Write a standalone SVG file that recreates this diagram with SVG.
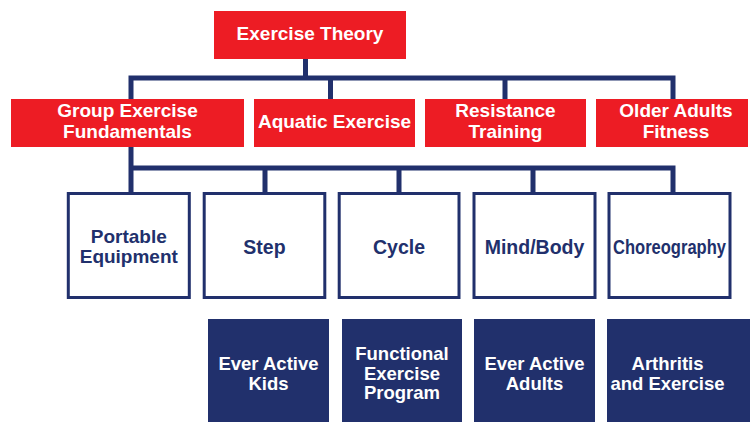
<svg xmlns="http://www.w3.org/2000/svg" width="750" height="422" viewBox="0 0 750 422">
<style>
.red{fill:#ed1c24}
.navy{fill:#21306c}
.wbox{fill:#ffffff;stroke:#21306c;stroke-width:3}
.wt{font-family:"Liberation Sans",Arial,sans-serif;font-weight:bold;font-size:19px;fill:#ffffff;text-anchor:middle}
.nt{font-family:"Liberation Sans",Arial,sans-serif;font-weight:bold;font-size:19.5px;fill:#21306c;text-anchor:middle}
.dt{font-family:"Liberation Sans",Arial,sans-serif;font-weight:bold;font-size:18.5px;fill:#ffffff;text-anchor:middle}
.ln{fill:none;stroke:#21306c;stroke-width:5;stroke-linejoin:miter;stroke-linecap:butt}
</style>
<rect width="750" height="422" fill="#ffffff"/>
<g id="connectors">
<path class="ln" d="M305.5 59V78M131 99V78H673V99M330.5 78V99M505 78V99"/>
<path class="ln" d="M131 147V168H673V192M265 168V192M399 168V192M533 168V192M131 168V192"/>
</g>
<g id="exercise-theory"><rect class="red" x="214" y="11" width="192" height="48"/><text class="wt" x="310" y="40">Exercise Theory</text></g>
<g id="group-exercise"><rect class="red" x="11" y="99" width="233" height="48"/><text class="wt" x="127.5" y="117">Group Exercise</text><text class="wt" x="127.5" y="137.5">Fundamentals</text></g>
<g id="aquatic"><rect class="red" x="254" y="99" width="161" height="48"/><text class="wt" x="334.5" y="127.5">Aquatic Exercise</text></g>
<g id="resistance"><rect class="red" x="425" y="99" width="161" height="48"/><text class="wt" x="505.5" y="117">Resistance</text><text class="wt" x="505.5" y="137.5">Training</text></g>
<g id="older-adults"><rect class="red" x="596" y="99" width="152" height="48"/><text class="wt" x="676" y="117">Older Adults</text><text class="wt" x="676" y="137.5">Fitness</text></g>
<g id="portable"><rect class="wbox" x="68.3" y="193.5" width="121" height="104"/><text class="nt" x="128.8" y="242.5" style="font-size:19px">Portable</text><text class="nt" x="128.8" y="263" style="font-size:19px">Equipment</text></g>
<g id="step"><rect class="wbox" x="204.2" y="193.5" width="120.6" height="104"/><text class="nt" x="264.5" y="253.5">Step</text></g>
<g id="cycle"><rect class="wbox" x="339.2" y="193.5" width="119.8" height="104"/><text class="nt" x="399" y="253.5">Cycle</text></g>
<g id="mindbody"><rect class="wbox" x="474" y="193.5" width="121" height="104"/><text class="nt" x="534.5" y="253.5">Mind/Body</text></g>
<g id="choreography"><rect class="wbox" x="609" y="193.5" width="121" height="104"/><text class="nt" x="669.5" y="253.5" textLength="113" lengthAdjust="spacingAndGlyphs">Choreography</text></g>
<g id="kids"><rect class="navy" x="208" y="319" width="121" height="103"/><text class="dt" x="268.5" y="370">Ever Active</text><text class="dt" x="268.5" y="390">Kids</text></g>
<g id="functional"><rect class="navy" x="342" y="319" width="120" height="103"/><text class="dt" x="402" y="360">Functional</text><text class="dt" x="402" y="379.5">Exercise</text><text class="dt" x="402" y="399">Program</text></g>
<g id="adults"><rect class="navy" x="474" y="319" width="121" height="103"/><text class="dt" x="534.5" y="370">Ever Active</text><text class="dt" x="534.5" y="390">Adults</text></g>
<g id="arthritis"><rect class="navy" x="607" y="319" width="143" height="103"/><text class="dt" x="667.5" y="370">Arthritis</text><text class="dt" x="667.5" y="390">and Exercise</text></g>
</svg>
